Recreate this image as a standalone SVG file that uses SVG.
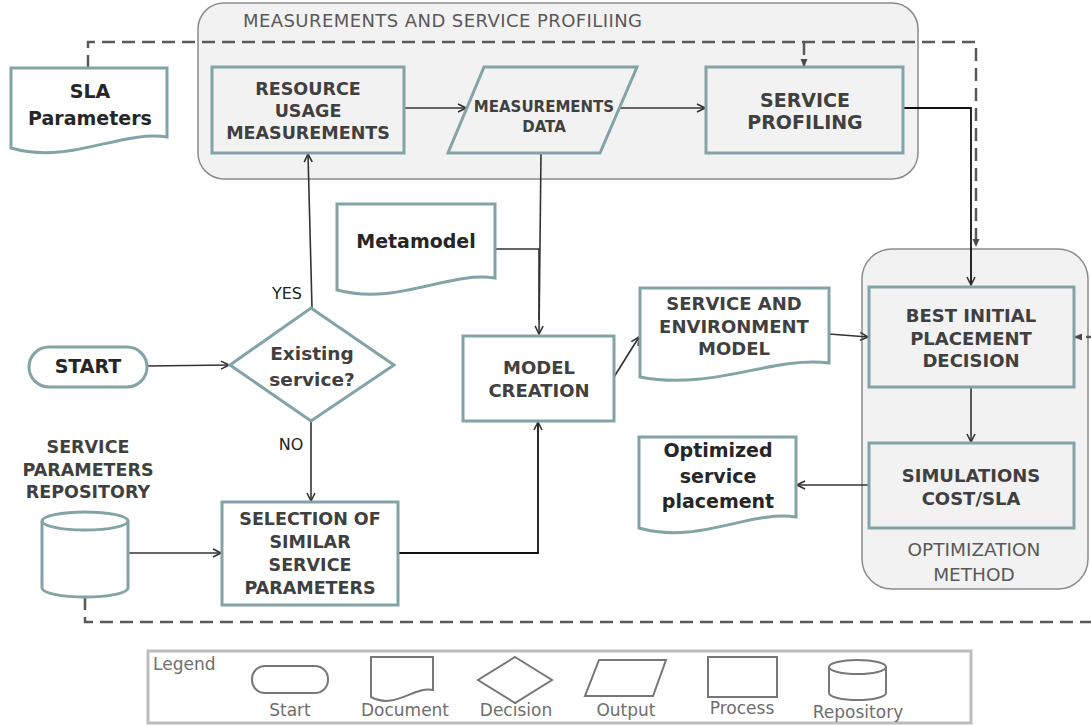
<svg xmlns="http://www.w3.org/2000/svg" width="1091" height="726" viewBox="0 0 1091 726">
  <style>
    .container { fill: #f2f2f2; stroke: #8c8c8c; stroke-width: 1.5; }
    .box { fill: #ffffff; stroke: #83a4a7; stroke-width: 3; }
    .box-grey { fill: #f2f2f2; stroke: #83a4a7; stroke-width: 3; }
    .label { font-family: "DejaVu Sans", sans-serif; font-weight: bold; fill: #404040; text-anchor: middle; }
    .doclabel { font-family: "DejaVu Sans", sans-serif; font-weight: bold; fill: #262626; text-anchor: middle; }
    .caption { font-family: "DejaVu Sans", sans-serif; fill: #595959; }
    .edge-label { font-family: "DejaVu Sans", sans-serif; fill: #222222; font-size: 16px; text-anchor: middle; }
    .flow { fill: none; stroke: #333333; stroke-width: 1.6; marker-end: url(#open-arrow); }
    .flow-plain { fill: none; stroke: #333333; stroke-width: 1.6; }
    .flow-strong { fill: none; stroke: #111111; stroke-width: 1.8; marker-end: url(#open-arrow); }
    .feedback { fill: none; stroke: #5a5a5a; stroke-width: 2.5; stroke-dasharray: 13 7; }
    .feedback-end { marker-end: url(#small-tri); }
    .legend-frame { fill: #ffffff; stroke: #bdbdbd; stroke-width: 3; }
    .legend-shape { fill: #ffffff; stroke: #777777; stroke-width: 2; }
    .legend-text { font-family: "DejaVu Sans", sans-serif; font-size: 17px; fill: #6e6e6e; text-anchor: middle; }
  </style>
  <defs>
    <marker id="open-arrow" viewBox="0 0 10 10" refX="9" refY="5" markerWidth="10" markerHeight="10" markerUnits="userSpaceOnUse" orient="auto">
      <path d="M1,1 L9,5 L1,9" fill="none" stroke="#333333" stroke-width="1.6"/>
    </marker>
    <marker id="small-tri" viewBox="0 0 8 8" refX="7" refY="4" markerWidth="8" markerHeight="8" markerUnits="userSpaceOnUse" orient="auto">
      <path d="M0,0.5 L8,4 L0,7.5 Z" fill="#4a4a4a"/>
    </marker>
  </defs>

  <!-- containers -->
  <g id="measurements-group">
    <rect class="container" x="198" y="3" width="720" height="176" rx="26"/>
    <text class="caption" x="243" y="27" font-size="18" textLength="399" lengthAdjust="spacing">MEASUREMENTS AND SERVICE PROFILIING</text>
  </g>
  <g id="optimization-group">
    <rect class="container" x="862" y="249" width="226" height="340" rx="30"/>
    <text class="caption" x="974" y="556" font-size="18.5" text-anchor="middle">OPTIMIZATION</text>
    <text class="caption" x="974" y="581" font-size="18.5" text-anchor="middle">METHOD</text>
  </g>

  <!-- connectors -->
  <g id="connectors">
    <path class="feedback feedback-end" d="M88,68 V42 H976 V246"/>
    <path class="feedback feedback-end" d="M804,42 V66"/>
    <path class="feedback feedback-end" d="M85,597 V622 H1097 V337 H1075"/>

    <path class="flow" d="M404,108 H466"/>
    <path class="flow" d="M619,108 H705"/>
    <path class="flow-strong" d="M903,108 H971 V285"/>
    <path class="flow" d="M541,153 L539,334"/>
    <path class="flow-plain" d="M495,249 H539 V320"/>
    <path class="flow" d="M614,377 L639,337"/>
    <path class="flow" d="M829,334 L868,337"/>
    <path class="flow" d="M971,387 V442"/>
    <path class="flow" d="M869,485 H797"/>
    <path class="flow" d="M147,366 L229,365"/>
    <path class="flow" d="M312,308 L308,154"/>
    <path class="flow" d="M311,421 V501"/>
    <path class="flow" d="M128,553 H221"/>
    <path class="flow-strong" d="M398,553 H538 V422"/>

    <text class="edge-label" x="287" y="299">YES</text>
    <text class="edge-label" x="291" y="450">NO</text>
  </g>

  <!-- nodes -->
  <g id="sla-parameters">
    <path class="box" d="M11,68 H167 V137 C120,130 70,165 11,148 Z"/>
    <text class="doclabel" x="90" y="98" font-size="19">SLA</text>
    <text class="doclabel" x="90" y="125" font-size="19">Parameters</text>
  </g>

  <g id="resource-usage">
    <rect class="box-grey" x="212" y="67" width="192" height="86"/>
    <text class="label" x="308" y="95" font-size="17.5">RESOURCE</text>
    <text class="label" x="308" y="117" font-size="17.5">USAGE</text>
    <text class="label" x="308" y="139" font-size="17.5">MEASUREMENTS</text>
  </g>

  <g id="measurements-data">
    <polygon class="box-grey" points="484,67 637,67 600,153 448,153"/>
    <text class="label" x="544" y="112" font-size="15">MEASUREMENTS</text>
    <text class="label" x="544" y="132" font-size="15">DATA</text>
  </g>

  <g id="service-profiling">
    <rect class="box-grey" x="706" y="67" width="197" height="86"/>
    <text class="label" x="805" y="107" font-size="19">SERVICE</text>
    <text class="label" x="805" y="129" font-size="19">PROFILING</text>
  </g>

  <g id="metamodel">
    <path class="box" d="M337,204 H495 V278 C448,271 397,306 337,290 Z"/>
    <text class="doclabel" x="416" y="248" font-size="19">Metamodel</text>
  </g>

  <g id="start">
    <rect class="box" x="29" y="347" width="118" height="40" rx="20"/>
    <text class="doclabel" x="88" y="373" font-size="19" fill="#1a1a1a">START</text>
  </g>

  <g id="existing-service">
    <polygon class="box" points="311,308 394,365 311,421 230,365"/>
    <text class="label" x="312" y="360" font-size="18.5">Existing</text>
    <text class="label" x="312" y="386" font-size="18.5">service?</text>
  </g>

  <g id="model-creation">
    <rect class="box" x="463" y="336" width="151" height="85"/>
    <text class="label" x="539" y="374" font-size="18">MODEL</text>
    <text class="label" x="539" y="397" font-size="18">CREATION</text>
  </g>

  <g id="service-environment-model">
    <path class="box" d="M640,288 H829 V363 C772,356 712,391 640,377 Z"/>
    <text class="label" x="734" y="310" font-size="18">SERVICE AND</text>
    <text class="label" x="734" y="333" font-size="18">ENVIRONMENT</text>
    <text class="label" x="734" y="355" font-size="18">MODEL</text>
  </g>

  <g id="best-initial-placement">
    <rect class="box-grey" x="869" y="287" width="205" height="100"/>
    <text class="label" x="971" y="322" font-size="18">BEST INITIAL</text>
    <text class="label" x="971" y="345" font-size="18">PLACEMENT</text>
    <text class="label" x="971" y="367" font-size="18">DECISION</text>
  </g>

  <g id="simulations">
    <rect class="box-grey" x="869" y="443" width="205" height="85"/>
    <text class="label" x="971" y="482" font-size="18">SIMULATIONS</text>
    <text class="label" x="971" y="505" font-size="18">COST/SLA</text>
  </g>

  <g id="optimized-placement">
    <path class="box" d="M639,437 H796 V517 C749,510 699,545 639,528 Z"/>
    <text class="doclabel" x="718" y="457" font-size="19">Optimized</text>
    <text class="doclabel" x="718" y="483" font-size="19">service</text>
    <text class="doclabel" x="718" y="508" font-size="19">placement</text>
  </g>

  <g id="service-parameters-repository">
    <text class="label" x="88" y="453" font-size="17.5">SERVICE</text>
    <text class="label" x="88" y="476" font-size="17.5">PARAMETERS</text>
    <text class="label" x="88" y="498" font-size="17.5">REPOSITORY</text>
    <path class="box" d="M42,521 V588 A43,9 0 0 0 128,588 V521 A43,9 0 0 0 42,521 Z"/>
    <path class="box" d="M42,521 A43,9 0 0 0 128,521" fill="none"/>
  </g>

  <g id="selection-similar">
    <rect class="box" x="222" y="502" width="176" height="103"/>
    <text class="label" x="310" y="525" font-size="17.5">SELECTION OF</text>
    <text class="label" x="310" y="548" font-size="17.5">SIMILAR</text>
    <text class="label" x="310" y="571" font-size="17.5">SERVICE</text>
    <text class="label" x="310" y="594" font-size="17.5">PARAMETERS</text>
  </g>

  <!-- legend -->
  <g id="legend">
    <rect class="legend-frame" x="148" y="651" width="823" height="72"/>
    <text class="legend-text" x="153" y="670" text-anchor="start" style="text-anchor:start">Legend</text>
    <rect class="legend-shape" x="252" y="666" width="76" height="27" rx="13"/>
    <text class="legend-text" x="290" y="716">Start</text>
    <path class="legend-shape" d="M371,657 H433 V690 C414,686 395,710 371,697 Z"/>
    <text class="legend-text" x="405" y="716">Document</text>
    <polygon class="legend-shape" points="515,657 552,680 515,703 478,680"/>
    <text class="legend-text" x="516" y="716">Decision</text>
    <polygon class="legend-shape" points="599,660 666,660 653,696 585,696"/>
    <text class="legend-text" x="626" y="716">Output</text>
    <rect class="legend-shape" x="708" y="657" width="69" height="40"/>
    <text class="legend-text" x="742" y="714">Process</text>
    <path class="legend-shape" d="M829,667 V693 A28.5,7 0 0 0 886,693 V667 A28.5,7 0 0 0 829,667 Z"/>
    <path class="legend-shape" d="M829,667 A28.5,7 0 0 0 886,667" fill="none"/>
    <text class="legend-text" x="858" y="718">Repository</text>
  </g>
</svg>
